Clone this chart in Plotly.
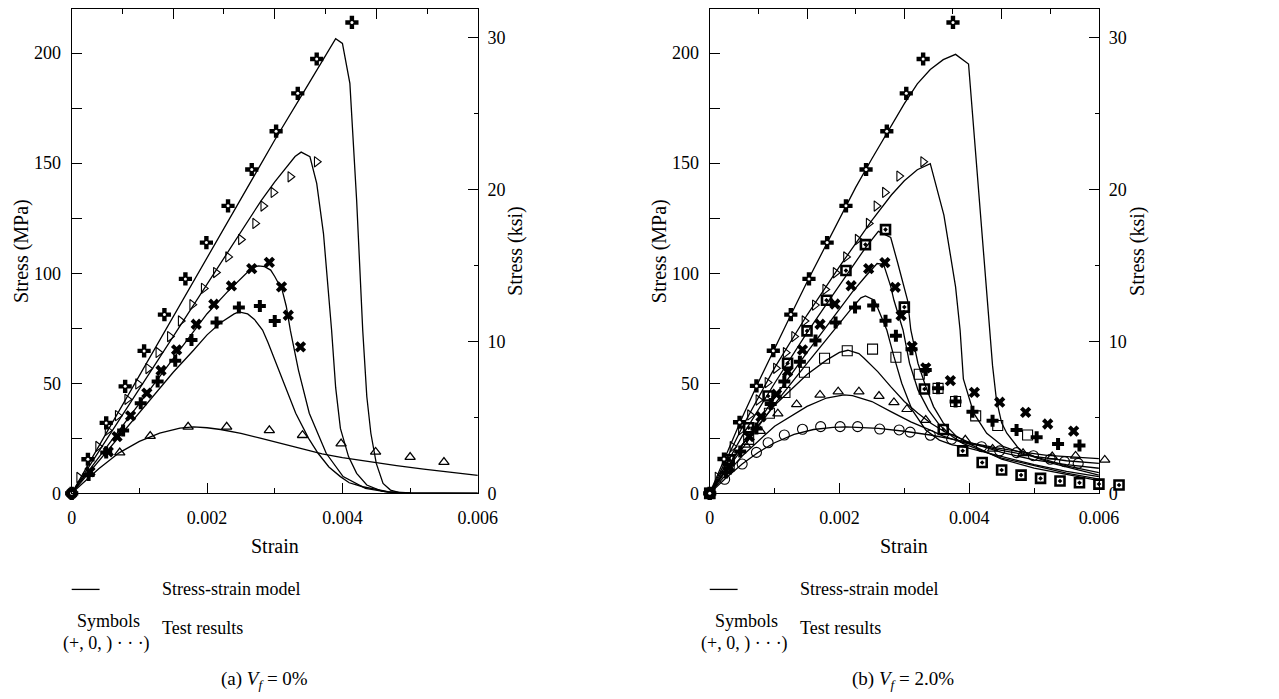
import plotly.graph_objects as go

# ---------------- (a) Vf = 0% : test results ----------------
a_cd_strain = [0, 0.00024, 0.00051, 0.00079, 0.00107, 0.00137, 0.00168, 0.00199, 0.00231, 0.00266, 0.00302, 0.00334, 0.00362, 0.00414]
a_cd_stress = [0, 15.5, 32.0, 48.6, 64.7, 81.2, 97.4, 113.9, 130.6, 147.1, 164.5, 181.7, 197.3, 213.9]
a_tr_strain = [0, 0.00011, 0.00039, 0.00053, 0.00068, 0.00082, 0.00098, 0.00113, 0.00128, 0.00145, 0.00161, 0.00178, 0.00195, 0.00213, 0.00231, 0.0025, 0.00271, 0.00283, 0.00298, 0.00323, 0.00362]
a_tr_stress = [0, 7.2, 21.3, 28.6, 35.3, 42.7, 49.7, 56.7, 64, 71.2, 78.3, 85.7, 93.1, 100.3, 107.4, 115.3, 122.6, 130.5, 136.7, 143.8, 150.6]
a_x_strain = [0, 0.00027, 0.00054, 0.00067, 0.00087, 0.00111, 0.00132, 0.00155, 0.00184, 0.0021, 0.00236, 0.00266, 0.00292, 0.0031, 0.0032, 0.00338]
a_x_stress = [0, 9.8, 18.9, 25.8, 35.2, 45.5, 55.8, 65.2, 76.8, 85.9, 94.2, 102.1, 104.9, 93.8, 80.9, 66.5]
a_p_strain = [0, 0.00025, 0.00051, 0.00076, 0.00102, 0.00127, 0.00153, 0.00177, 0.00214, 0.00247, 0.00278, 0.00300]
a_p_stress = [0, 8.3, 18.5, 28.5, 40.9, 50.8, 60.2, 69.7, 77.6, 84.4, 85.1, 78.3]
a_tu_strain = [0, 0.00071, 0.00116, 0.00172, 0.00229, 0.00292, 0.00341, 0.00398, 0.00449, 0.005, 0.0055]
a_tu_stress = [0, 18.5, 26.0, 30.2, 30.2, 28.6, 26.4, 22.6, 18.8, 16.5, 14.2]

# ---------------- (a) Vf = 0% : stress-strain model ----------------
a_m_cd_strain = [0, 0.001, 0.002, 0.003, 0.0035, 0.0037, 0.0038, 0.0039, 0.004, 0.00411, 0.00421, 0.0043, 0.00436, 0.00442, 0.0045, 0.0046, 0.00471, 0.00483, 0.005, 0.006]
a_m_cd_stress = [0, 53.5, 107, 160.5, 186, 196, 201.5, 206.5, 204.4, 186.2, 133, 74, 44, 27.3, 13.6, 4.5, 1.5, 0.45, 0.1, 0]
a_m_tr_strain = [0, 0.001, 0.002, 0.0028, 0.003, 0.0032, 0.0033, 0.00339, 0.00352, 0.00362, 0.00372, 0.00384, 0.0039, 0.00397, 0.00409, 0.00421, 0.00436, 0.00458, 0.00475, 0.005, 0.006]
a_m_tr_stress = [0, 47.5, 95, 133, 141.5, 149.5, 153, 155, 152.9, 140.8, 118, 74.1, 48, 29.5, 16.7, 9.1, 3.8, 1.06, 0.3, 0.05, 0]
a_m_x_strain = [0, 0.001, 0.002, 0.0023, 0.0025, 0.0026, 0.0027, 0.00276, 0.00285, 0.00294, 0.003, 0.00311, 0.00317, 0.00323, 0.00335, 0.00351, 0.00376, 0.00401, 0.00434, 0.00467, 0.005, 0.006]
a_m_x_stress = [0, 40.8, 81.6, 91.5, 97.5, 100.5, 102.8, 103.3, 103, 101.4, 98.5, 92.3, 85, 74.1, 56, 36.4, 18.2, 7.6, 2.3, 0.6, 0.1, 0]
a_m_p_strain = [0, 0.0005, 0.001, 0.0015, 0.0018, 0.002, 0.0022, 0.0024, 0.00247, 0.0026, 0.0027, 0.00282, 0.0029, 0.00302, 0.0032, 0.00331, 0.0035, 0.00364, 0.0038, 0.00397, 0.0041, 0.0043, 0.00467, 0.005, 0.006]
a_m_p_stress = [0, 18.5, 37, 55, 65, 72, 77.5, 81.5, 82.4, 81.5, 79, 74.2, 68.5, 59.1, 45, 36.4, 25, 18.2, 12, 7.6, 4.8, 3.0, 0.76, 0.2, 0]
a_m_tu_strain = [0, 0.0002, 0.0004, 0.0007, 0.001, 0.0013, 0.0016, 0.0018, 0.002, 0.0022, 0.0025, 0.0028, 0.0031, 0.0034, 0.0037, 0.004, 0.0044, 0.0048, 0.0052, 0.0056, 0.006]
a_m_tu_stress = [0, 5.8, 11.2, 18.4, 23.6, 27.4, 29.6, 30.2, 29.8, 29.0, 27.2, 25.0, 22.6, 20.2, 17.9, 16.2, 14.3, 12.6, 11.0, 9.5, 8.2]

# ---------------- (b) Vf = 2.0% : test results ----------------
b_cd_strain = [0, 0.00022, 0.00046, 0.00072, 0.00098, 0.00125, 0.00153, 0.00181, 0.0021, 0.00241, 0.00273, 0.00303, 0.00329, 0.00375]
b_cd_stress = [0, 15.6, 32.3, 48.8, 64.8, 81.2, 97.4, 113.9, 130.6, 147.1, 164.5, 181.7, 197.3, 213.9]
b_tr_strain = [0, 0.00012, 0.00035, 0.00048, 0.00062, 0.00075, 0.00089, 0.00102, 0.00117, 0.0013, 0.00146, 0.00162, 0.00178, 0.00194, 0.0021, 0.00228, 0.00245, 0.00257, 0.0027, 0.00292, 0.00329]
b_tr_stress = [0, 7.3, 21.2, 28.8, 35.6, 42.4, 50.3, 56.8, 63.9, 71.2, 78.3, 85.5, 92.6, 100.2, 107.4, 115.3, 122.6, 130.5, 136.7, 144.1, 150.6]
b_sd_strain = [0, 0.0003, 0.0006, 0.0009, 0.0012, 0.0015, 0.0018, 0.0021, 0.0024, 0.00271, 0.003, 0.00331, 0.0036, 0.0039, 0.0042, 0.0045, 0.0048, 0.0051, 0.0054, 0.0057, 0.006, 0.00631]
b_sd_stress = [0, 15.2, 29.8, 44.2, 59.1, 73.8, 87.7, 101.2, 113, 119.8, 84.6, 47.4, 29, 19.3, 14, 10.6, 8.3, 6.8, 5.6, 4.8, 4.2, 3.8]
b_x_strain = [0, 0.0003, 0.00061, 0.00079, 0.00103, 0.0012, 0.00143, 0.0017, 0.00193, 0.00218, 0.00245, 0.0027, 0.00286, 0.00295, 0.00312, 0.00333, 0.00371, 0.00408, 0.00447, 0.00487, 0.00521, 0.00561]
b_x_stress = [0, 12, 25.8, 34.8, 45, 55.3, 65.2, 76.8, 86, 94.3, 102.1, 104.8, 93.6, 80.8, 66.7, 57, 51.2, 45.9, 41.4, 36.8, 31.5, 28.3]
b_p_strain = [0, 0.00025, 0.00047, 0.00072, 0.00094, 0.00115, 0.00139, 0.00163, 0.00194, 0.00224, 0.00252, 0.00271, 0.00287, 0.00311, 0.00333, 0.00352, 0.00379, 0.00405, 0.00436, 0.00473, 0.00504, 0.00537, 0.0057]
b_p_stress = [0, 9.5, 19, 29.5, 40.6, 50.8, 59.8, 69.4, 77.6, 84.4, 85.3, 78.4, 71.6, 65.5, 56, 47.7, 41.7, 37.1, 33, 28.8, 25.5, 22.4, 21.7]
b_os_strain = [0, 0.0003, 0.0006, 0.00092, 0.00116, 0.00146, 0.00177, 0.00212, 0.00251, 0.00287, 0.00323, 0.00352, 0.00379, 0.0041, 0.00444, 0.0049]
b_os_stress = [0, 12.5, 24.5, 36.4, 45.8, 55, 61.4, 64.8, 65.5, 61.8, 54.1, 47.7, 41.7, 35.2, 30.8, 26.5]
b_tu_strain = [0, 0.00028, 0.00055, 0.00078, 0.00105, 0.00134, 0.0017, 0.00198, 0.0023, 0.00261, 0.00284, 0.00304, 0.00333, 0.00394, 0.00436, 0.00483, 0.00528, 0.00564, 0.00609]
b_tu_stress = [0, 12, 22, 28.3, 36.2, 40.4, 44.7, 46.2, 46.2, 44.2, 41.3, 38.2, 33.3, 24.3, 20.2, 18.2, 16.7, 17, 15.2]
b_c_strain = [0, 0.00023, 0.0005, 0.00072, 0.0009, 0.00115, 0.00143, 0.00171, 0.00201, 0.00228, 0.00262, 0.00292, 0.00309, 0.0034, 0.00373, 0.00419, 0.00447, 0.00473, 0.00499, 0.00525, 0.00547, 0.00568]
b_c_stress = [0, 6.4, 13.3, 18.6, 23, 26.5, 29.1, 30.3, 30.3, 30.3, 29.2, 28.8, 27.8, 26.4, 24.6, 21.2, 19.3, 18.5, 17.1, 15.5, 14.4, 13.6]

# ---------------- (b) Vf = 2.0% : stress-strain model ----------------
b_m_cd_strain = [0, 0.0002, 0.0005, 0.00075, 0.001, 0.00125, 0.0015, 0.00175, 0.002, 0.00225, 0.0025, 0.00275, 0.003, 0.0032, 0.0034, 0.0036, 0.00379, 0.00399, 0.0043, 0.00436, 0.00442, 0.0045, 0.00458, 0.00478, 0.00501, 0.0055, 0.006]
b_m_cd_stress = [0, 14, 34.5, 50.5, 66, 81, 96, 110.5, 125, 139, 152, 164.5, 177, 186, 192.5, 197, 199.4, 195, 80, 58, 42.4, 32, 27.3, 19.7, 16.7, 12.5, 9.4]
b_m_tr_strain = [0, 0.0005, 0.001, 0.0015, 0.002, 0.0025, 0.0028, 0.003, 0.0032, 0.0034, 0.00361, 0.00379, 0.00386, 0.00391, 0.00407, 0.00427, 0.00453, 0.00483, 0.0053, 0.006]
b_m_tr_stress = [0, 30, 57, 81, 103, 124, 135.5, 142, 147, 149.8, 126.4, 93.8, 74.1, 52, 36.4, 27.3, 21.2, 18.2, 13.5, 8.3]
b_m_sd_strain = [0, 0.0005, 0.001, 0.0015, 0.0018, 0.0021, 0.0024, 0.0026, 0.00279, 0.0029, 0.00305, 0.0031, 0.00321, 0.00333, 0.00345, 0.0036, 0.0038, 0.004, 0.0045, 0.005, 0.0055, 0.006]
b_m_sd_stress = [0, 26, 50, 73, 86, 99, 111.5, 119, 116.2, 104.4, 87.7, 74.2, 59.1, 48.5, 39.4, 32, 26, 22.5, 15.5, 11.5, 8.8, 5.8]
b_m_x_strain = [0, 0.0005, 0.001, 0.0015, 0.0018, 0.002, 0.0022, 0.0024, 0.00258, 0.00268, 0.00279, 0.00284, 0.00298, 0.00308, 0.00321, 0.00337, 0.00354, 0.00374, 0.0039, 0.0045, 0.005, 0.0055, 0.006]
b_m_x_stress = [0, 22, 43.5, 64, 76, 84, 91.5, 98.5, 104.4, 104, 94, 87.7, 74.2, 59.1, 47, 37.9, 31.1, 25.8, 22.7, 16, 12.5, 9.2, 6.5]
b_m_p_strain = [0, 0.0005, 0.001, 0.0015, 0.0018, 0.002, 0.0022, 0.00233, 0.0024, 0.00254, 0.00264, 0.00273, 0.00284, 0.00296, 0.00312, 0.00333, 0.00354, 0.00374, 0.0039, 0.0045, 0.005, 0.0055, 0.006]
b_m_p_stress = [0, 20.5, 40.5, 59, 70, 77.5, 84.5, 88.8, 89.7, 87.7, 80.2, 74.2, 62.1, 50, 37.9, 28.8, 24.2, 22, 21.2, 16.8, 13, 10, 7.6]
b_m_os_strain = [0, 0.0005, 0.001, 0.0015, 0.0018, 0.002, 0.00213, 0.0023, 0.00238, 0.00259, 0.00279, 0.003, 0.00321, 0.00341, 0.00362, 0.00382, 0.004, 0.0045, 0.005, 0.0055, 0.006]
b_m_os_stress = [0, 22, 40, 54, 60.5, 64, 65, 63.5, 61.4, 55.3, 48.5, 41.7, 36.4, 31.8, 28, 25.5, 23.2, 18.6, 15.2, 13, 11.4]
b_m_tu_strain = [0, 0.0005, 0.001, 0.0015, 0.0018, 0.00207, 0.0022, 0.0025, 0.0028, 0.0031, 0.0034, 0.0036, 0.0039, 0.0042, 0.0045, 0.005, 0.0055, 0.006]
b_m_tu_stress = [0, 17, 30.5, 39.5, 43.3, 44.7, 44.4, 41.7, 37, 32.5, 28.7, 26, 23.1, 21.5, 19.5, 16.8, 14.8, 13.6]
b_m_c_strain = [0, 0.00025, 0.0005, 0.00075, 0.001, 0.0013, 0.0016, 0.0019, 0.0021, 0.0023, 0.0026, 0.003, 0.0034, 0.0038, 0.004, 0.0044, 0.0048, 0.0052, 0.0056, 0.006]
b_m_c_stress = [0, 7, 13.3, 18.7, 23, 26.8, 29, 30, 30.2, 30, 29.5, 28.2, 26.5, 24.3, 23, 20.8, 18.8, 17.2, 16.4, 15.8]

# ---------------- axis ticks ----------------
strain_ticks = [0, 0.002, 0.004, 0.006]
strain_tick_text = ["0", "0.002", "0.004", "0.006"]
mpa_ticks = [0, 50, 100, 150, 200]
ksi_ticks = [0, 10, 20, 30]
MPA_PER_KSI = 6.895
STRESS_MAX = 220
STRAIN_MAX = 0.006

W, H = 1279, 699
SCALE = 0.985                 # the page is shown slightly reduced; place items accordingly
FONT = "Liberation Serif"
tick_font = dict(family=FONT, size=18, color="black")


def px(x):
    return x / (W * SCALE)


def py(y):
    return 1 - y / (H * SCALE)


# plot frames in screen pixels
A_LEFT, A_RIGHT = 67, 475
B_LEFT, B_RIGHT = 708, 1099
B_MARK_RIGHT = 1135          # test points of (b) may run past the frame
TOP, BOTTOM = 9, 493

fig = go.Figure()

model_line = dict(color="black", width=1.3)


def add_model(xs, ys, xa, ya):
    fig.add_trace(go.Scatter(x=xs, y=ys, mode="lines", line=model_line,
                             xaxis=xa, yaxis=ya, hoverinfo="skip", showlegend=False))


def add_points(xs, ys, xa, ya, symbol, size, lw=1.2, color="black"):
    fig.add_trace(go.Scatter(
        x=xs, y=ys, mode="markers", xaxis=xa, yaxis=ya, cliponaxis=False,
        marker=dict(symbol=symbol, size=size, color=color,
                    line=dict(color="black", width=lw)),
        hoverinfo="skip", showlegend=False))


def add_frame_axes(xa, ya):
    # empty overlay trace so the top strain axis and the ksi axis get drawn
    fig.add_trace(go.Scatter(x=[None], y=[None], mode="markers", xaxis=xa, yaxis=ya,
                             hoverinfo="skip", showlegend=False))


# panel (a)
for xs, ys in [(a_m_cd_strain, a_m_cd_stress), (a_m_tr_strain, a_m_tr_stress),
               (a_m_x_strain, a_m_x_stress), (a_m_p_strain, a_m_p_stress),
               (a_m_tu_strain, a_m_tu_stress)]:
    add_model(xs, ys, "x", "y")
add_points(a_tu_strain, a_tu_stress, "x", "y", "triangle-up-open", 9, 1.3)
add_points(a_tr_strain, a_tr_stress, "x", "y", "triangle-right-open", 9, 1.1)
add_points(a_x_strain, a_x_stress, "x", "y", "x", 10, 0)
add_points(a_p_strain, a_p_stress, "x", "y", "cross", 10, 0)
add_points(a_cd_strain, a_cd_stress, "x", "y", "cross", 11, 0)
add_points(a_cd_strain, a_cd_stress, "x", "y", "circle", 3, 0, "white")
add_frame_axes("x2", "y2")

# panel (b)
for xs, ys in [(b_m_cd_strain, b_m_cd_stress), (b_m_tr_strain, b_m_tr_stress),
               (b_m_sd_strain, b_m_sd_stress), (b_m_x_strain, b_m_x_stress),
               (b_m_p_strain, b_m_p_stress), (b_m_os_strain, b_m_os_stress),
               (b_m_tu_strain, b_m_tu_stress), (b_m_c_strain, b_m_c_stress)]:
    add_model(xs, ys, "x3", "y3")
add_frame_axes("x4", "y4")
# markers of (b) use a hidden strain axis with the same scale, stretched past the frame
add_points(b_c_strain, b_c_stress, "x5", "y3", "circle-open", 10, 1.1)
add_points(b_tu_strain, b_tu_stress, "x5", "y3", "triangle-up-open", 9, 1.2)
add_points(b_os_strain, b_os_stress, "x5", "y3", "square-open", 10, 1.1)
add_points(b_tr_strain, b_tr_stress, "x5", "y3", "triangle-right-open", 9, 1.1)
add_points(b_sd_strain, b_sd_stress, "x5", "y3", "square-open-dot", 9, 2.6)
add_points(b_x_strain, b_x_stress, "x5", "y3", "x", 10, 0)
add_points(b_p_strain, b_p_stress, "x5", "y3", "cross", 10, 0)
add_points(b_cd_strain, b_cd_stress, "x5", "y3", "cross", 11, 0)
add_points(b_cd_strain, b_cd_stress, "x5", "y3", "circle", 3, 0, "white")

axis_common = dict(showline=True, linecolor="black", linewidth=1.2, showgrid=False,
                   zeroline=False, ticks="inside", tickcolor="black", tickwidth=1.2,
                   tickfont=tick_font)


def bottom_axis(domain, anchor):
    return dict(axis_common, domain=domain, anchor=anchor, range=[0, STRAIN_MAX],
                tickvals=strain_ticks, ticktext=strain_tick_text, ticklen=10,
                minor=dict(ticks="inside", dtick=0.001, tick0=0, ticklen=5,
                           tickcolor="black", tickwidth=1.2),
                ticklabelstandoff=8)


def top_axis(over, anchor):
    return dict(axis_common, overlaying=over, anchor=anchor, side="top",
                range=[0, STRAIN_MAX], tick0=0, dtick=0.0015, ticklen=10,
                showticklabels=False,
                minor=dict(ticks="inside", dtick=0.00075, tick0=0, ticklen=5,
                           tickcolor="black", tickwidth=1.2))


def mpa_axis(domain, anchor):
    return dict(axis_common, domain=domain, anchor=anchor, range=[0, STRESS_MAX],
                tickvals=mpa_ticks, ticklen=10,
                minor=dict(ticks="inside", dtick=25, tick0=0, ticklen=10,
                           tickcolor="black", tickwidth=1.2),
                ticklabelstandoff=6)


def ksi_axis(over, anchor):
    return dict(axis_common, overlaying=over, anchor=anchor, side="right",
                range=[0, STRESS_MAX / MPA_PER_KSI], tickvals=ksi_ticks, ticklen=10,
                minor=dict(ticks="inside", dtick=5, tick0=0, ticklen=4,
                           tickcolor="black", tickwidth=1.2),
                ticklabelstandoff=5)


ydom = [py(BOTTOM), py(TOP)]
xdom_a = [px(A_LEFT), px(A_RIGHT)]
xdom_b = [px(B_LEFT), px(B_RIGHT)]
stretch = (B_MARK_RIGHT - B_LEFT) / (B_RIGHT - B_LEFT)

fig.update_layout(
    width=W, height=H, autosize=False,
    margin=dict(l=0, r=0, t=0, b=0),
    paper_bgcolor="white", plot_bgcolor="rgba(0,0,0,0)",
    showlegend=False,
    xaxis=bottom_axis(xdom_a, "y"),
    xaxis2=top_axis("x", "y2"),
    yaxis=mpa_axis(ydom, "x"),
    yaxis2=ksi_axis("y", "x2"),
    xaxis3=bottom_axis(xdom_b, "y3"),
    xaxis4=top_axis("x3", "y4"),
    yaxis3=mpa_axis(ydom, "x3"),
    yaxis4=ksi_axis("y3", "x4"),
    xaxis5=dict(domain=[px(B_LEFT), px(B_MARK_RIGHT)], range=[0, STRAIN_MAX * stretch],
                anchor="y3", visible=False, showgrid=False, zeroline=False),
)

ann = []
title_font = dict(family=FONT, size=20, color="black")
text_font = dict(family=FONT, size=18, color="black")
cap_font = dict(family=FONT, size=19, color="black")


def add_text(x, y, text, font, xanchor="center", angle=0):
    ann.append(dict(x=px(x), y=py(y), xref="paper", yref="paper", text=text,
                    showarrow=False, font=font, xanchor=xanchor, yanchor="middle",
                    textangle=angle))


shapes = []
for left, right, caption in [(A_LEFT, A_RIGHT, "(a) <i>V</i><sub><i>f</i></sub> = 0%"),
                             (B_LEFT, B_RIGHT, "(b) <i>V</i><sub><i>f</i></sub> = 2.0%")]:
    add_text(left - 51, 251, "Stress (MPa)", title_font, angle=-90)
    add_text(right + 38, 251, "Stress (ksi)", title_font, angle=-90)
    add_text((left + right) / 2, 546, "Strain", title_font)
    shapes.append(dict(type="line", xref="paper", yref="paper",
                       x0=px(left), x1=px(left + 28), y0=py(589), y1=py(589),
                       line=dict(color="black", width=1.3)))
    add_text(left + 89, 589, "Stress-strain model", text_font, xanchor="left")
    add_text(left + 37, 621, "Symbols", text_font)
    add_text(left + 35, 643, "(+, 0, ) · · ·)", text_font)
    add_text(left + 89, 628, "Test results", text_font, xanchor="left")
    add_text(left + 194, 680, caption, cap_font)

fig.update_layout(annotations=ann, shapes=shapes)

fig.write_html("out.html")
